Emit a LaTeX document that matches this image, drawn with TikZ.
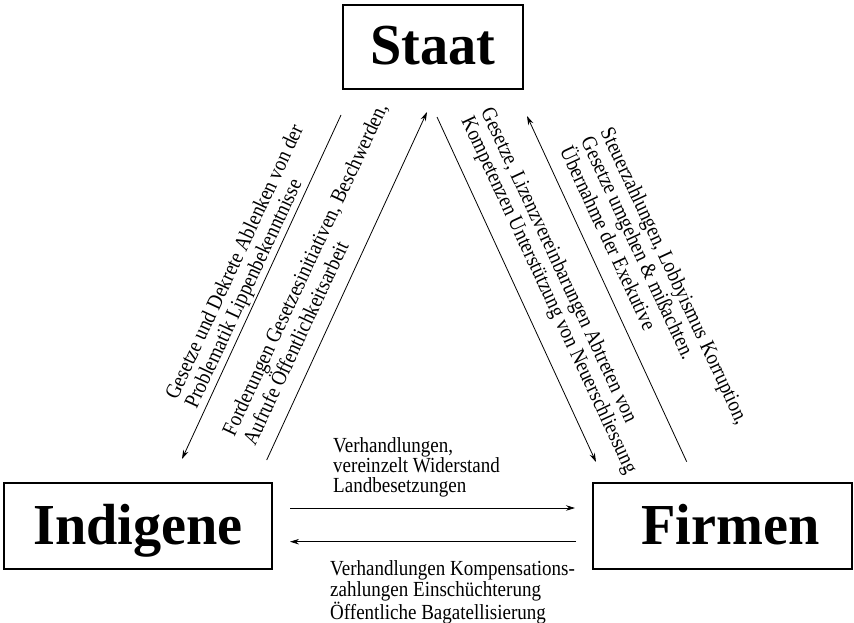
\documentclass[tikz,border=0pt]{standalone}
\usepackage{fontspec}
\setmainfont{Liberation Serif}
\newfontfamily\lblfont[FakeStretch=0.885]{Liberation Serif}
\newfontfamily\ttlfont[FakeStretch=0.97]{Liberation Serif}
\usetikzlibrary{arrows.meta}
\begin{document}
\begin{tikzpicture}[x=1pt,y=-1pt,
  box/.style={draw, line width=1.7pt, inner sep=0pt,
    font=\ttlfont\bfseries\fontsize{58}{60}\selectfont,
    text height=40pt, text depth=4pt},
  hlbl/.style={inner sep=0pt, align=left, anchor=north west,
    font=\lblfont\fontsize{21.5}{19.5}\selectfont},
  rlbl/.style={inner sep=0pt, align=left, anchor=west,
    font=\lblfont\fontsize{21.5}{21.5}\selectfont},
  flow/.style={line width=0.8pt, -{Stealth[length=9pt,width=5.5pt]}}]
\useasboundingbox (0,0) rectangle (854,623);
\fill[white] (0,0) rectangle (854,623);

% boxes
\node[box, minimum width=180pt, minimum height=84pt] (staat) at (433,47) {Staat};
\node[box, minimum width=268pt, minimum height=86pt] (indigene) at (138,526) {Indigene};
\node[box, minimum width=259pt, minimum height=86pt] (firmen) at (722.5,526) {\hspace{16pt}Firmen};

% connector end points
\coordinate (a1s) at (341,115);   \coordinate (a1e) at (182,459);
\coordinate (a2s) at (266.7,460); \coordinate (a2e) at (427,112);
\coordinate (a3s) at (437,117);   \coordinate (a3e) at (596,462);
\coordinate (a4s) at (686.7,461.7); \coordinate (a4e) at (527,116);
\coordinate (a5s) at (290,508);   \coordinate (a5e) at (575,508);
\coordinate (a6s) at (576,541.7); \coordinate (a6e) at (290,541.7);

\draw[flow] (a1s) -- (a1e);
\draw[flow] (a2s) -- (a2e);
\draw[flow] (a3s) -- (a3e);
\draw[flow] (a4s) -- (a4e);
\draw[flow] (a5s) -- (a5e);
\draw[flow] (a6s) -- (a6e);

% labels
\node[rlbl, rotate=65] (l1) at (182,403)
  {Gesetze und Dekrete Ablenken von der\\Problematik Lippenbekenntnisse};
\node[rlbl, rotate=65] (l2) at (238,439)
  {Forderungen Gesetzesinitiativen, Beschwerden,\\Aufrufe Öffentlichkeitsarbeit};
\node[rlbl, rotate=-65] (l3) at (475.5,114)
  {Gesetze, Lizenzvereinbarungen Abtreten von\\Kompetenzen Unterstützung von Neuerschliessung};
\node[rlbl, rotate=-65] (l4) at (586.5,138)
  {Steuerzahlungen, Lobbyismus Korruption,\\Gesetze umgehen \& mißachten.\\Übernahme der Exekutive};
\node[hlbl] (l5) at (333,437)
  {Verhandlungen,\\vereinzelt Widerstand\\Landbesetzungen};
\node[hlbl] (l6) at (330,560.5)
  {Verhandlungen Kompensations-\\zahlungen Einschüchterung\\Öffentliche Bagatellisierung};
\end{tikzpicture}
\end{document}
